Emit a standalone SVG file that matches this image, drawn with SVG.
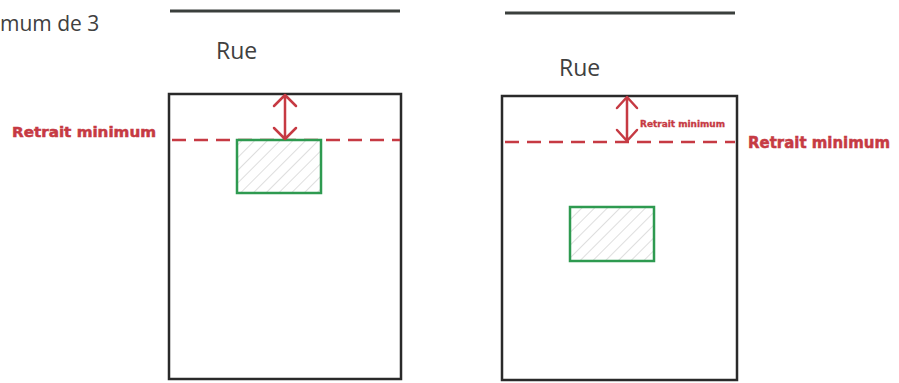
<svg xmlns="http://www.w3.org/2000/svg" width="899" height="383" viewBox="0 0 899 383">
<style>
.road{stroke:#3a3f3c;stroke-width:3;fill:none}
.lot{stroke:#2a2a2a;stroke-width:2.5;fill:#fff}
.dash{stroke:#c63a43;stroke-width:2.5;stroke-dasharray:14 8;fill:none}
.arr{stroke:#c63a43;stroke-width:2.5;fill:none;stroke-linecap:round;stroke-linejoin:round}
.bld{stroke:#2e9a50;stroke-width:2.5;fill:url(#hatch)}
.rue{font-family:"Open Sans","Liberation Sans",sans-serif;font-size:23px;fill:#404040}
.lab{font-family:"DejaVu Sans","Liberation Sans",sans-serif;font-weight:bold;fill:#c63a43;stroke:#c63a43;stroke-width:0.5}
</style>
<defs>
<pattern id="hatch" patternUnits="userSpaceOnUse" width="9" height="9" patternTransform="rotate(45)">
<rect width="9" height="9" fill="#fff"/>
<line x1="0" y1="0" x2="0" y2="9" stroke="#bdbdbd" stroke-width="1"/>
</pattern>
</defs>
<rect width="899" height="383" fill="#fff"/>
<text class="rue" x="0" y="31" style="font-size:21px">mum de 3</text>

<g id="left">
<line class="road" x1="170" y1="11" x2="400" y2="11"/>
<text class="rue" x="216" y="59">Rue</text>
<rect class="lot" x="169" y="94" width="232" height="285"/>
<line class="dash" x1="172" y1="140" x2="400" y2="140"/>
<rect class="bld" x="237" y="140" width="84" height="53"/>
<path class="arr" d="M285 96 V139 M274 106 L285 95 L296 106 M274 128 L285 139 L296 128"/>
<text class="lab" x="12" y="137" font-size="14" textLength="144" lengthAdjust="spacingAndGlyphs">Retrait minimum</text>
</g>

<g id="right">
<line class="road" x1="505" y1="13" x2="735" y2="13"/>
<text class="rue" x="559" y="76">Rue</text>
<rect class="lot" x="502" y="96" width="235" height="284"/>
<line class="dash" x1="505" y1="142" x2="735" y2="142"/>
<rect class="bld" x="570" y="207" width="84" height="54"/>
<path class="arr" d="M627 98 V141 M617 108 L627 97 L637 108 M617 130 L627 141 L637 130"/>
<text class="lab" x="640" y="127" font-size="8" textLength="85" lengthAdjust="spacingAndGlyphs" style="stroke-width:0.3">Retrait minimum</text>
<text class="lab" x="748" y="148" font-size="15" textLength="142" lengthAdjust="spacingAndGlyphs">Retrait minimum</text>
</g>
</svg>
